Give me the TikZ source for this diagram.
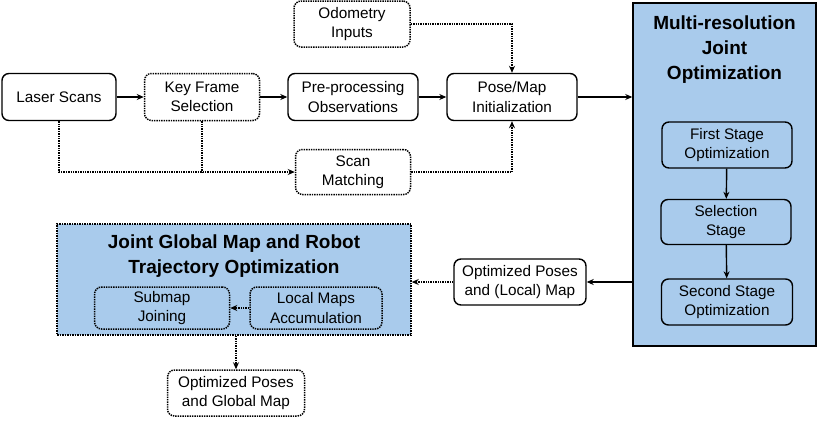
\documentclass[tikz,border=0pt]{standalone}
\usepackage{fontspec}
\setmainfont{Liberation Sans}
\usetikzlibrary{arrows.meta}
\definecolor{bl}{HTML}{A9CBEC}
\begin{document}
\begin{tikzpicture}[x=1pt,y=-1pt,
 box/.style={draw,rounded corners=7pt,line width=1.4pt,align=center,font=\fontsize{15.3}{19.5}\selectfont,inner sep=0pt},
 dbox/.style={box,densely dotted,line width=1.5pt},
 arr/.style={-{Stealth[length=7pt,width=6pt]},line width=1.4pt},
 darr/.style={arr,densely dotted}]
\useasboundingbox (0,0) rectangle (820,421);
\node[box,minimum width=114,minimum height=47] (ls) at (59,97) {Laser Scans};
\node[dbox,minimum width=115,minimum height=47] (kf) at (202,97) {Key Frame\\Selection};
\node[box,minimum width=130,minimum height=47] (pp) at (353,97) {Pre-processing\\Observations};
\node[box,minimum width=130,minimum height=47] (pm) at (512,97) {Pose/Map\\Initialization};
\node[dbox,minimum width=116,minimum height=46] (od) at (352,24) {Odometry\\Inputs};
\node[dbox,minimum width=115,minimum height=45] (sm) at (353,172) {Scan\\Matching};
\node[draw,line width=1.5pt,fill=bl,minimum width=183,minimum height=343,inner sep=0pt] (mr) at (724.5,174.5) {};
\node[align=center,font=\bfseries\fontsize{19}{25}\selectfont] (mrt) at (724.5,50) {Multi-resolution\\Joint\\Optimization};
\node[box,fill=bl,minimum width=130,minimum height=46] (fs) at (727,145) {First Stage\\Optimization};
\node[box,fill=bl,minimum width=130,minimum height=45] (ss) at (726,222) {Selection\\Stage};
\node[box,fill=bl,minimum width=131,minimum height=46] (sc) at (727,302) {Second Stage\\Optimization};
\node[box,minimum width=132,minimum height=46] (op) at (520,282) {Optimized Poses\\and (Local) Map};
\node[draw,densely dotted,line width=1.5pt,fill=bl,minimum width=354,minimum height=111,inner sep=0pt] (jg) at (234,279.5) {};
\node[align=center,font=\bfseries\fontsize{19}{25}\selectfont] (jgt) at (234,256) {Joint Global Map and Robot\\Trajectory Optimization};
\node[dbox,fill=bl,minimum width=135,minimum height=42] (sj) at (162,308) {Submap\\Joining};
\node[dbox,fill=bl,minimum width=132,minimum height=42] (la) at (316,308) {Local Maps\\Accumulation};
\node[dbox,minimum width=137,minimum height=46] (og) at (236,393) {Optimized Poses\\and Global Map};
\coordinate (j) at (202,172);
\draw[arr] (ls) -- (kf);
\draw[arr] (kf) -- (pp);
\draw[arr] (pp) -- (pm);
\draw[arr] (pm.east) -- (mr.west|-pm.east);
\draw[darr] (od.east) -| (pm.north);
\draw[darr] (sm.east) -| (pm.south);
\draw[darr] (ls.south) |- (sm.west);
\draw[densely dotted,line width=1.4pt] (kf.south) -- (j);
\draw[arr] (mr.west|-op.east) -- (op.east);
\draw[darr] (op.west) -- (jg.east|-op.west);
\draw[darr] (la) -- (sj);
\draw[darr] (jg.south-|og.north) -- (og.north);
\draw[arr] (fs) -- (ss);
\draw[arr] (ss) -- (sc);
\end{tikzpicture}
\end{document}
